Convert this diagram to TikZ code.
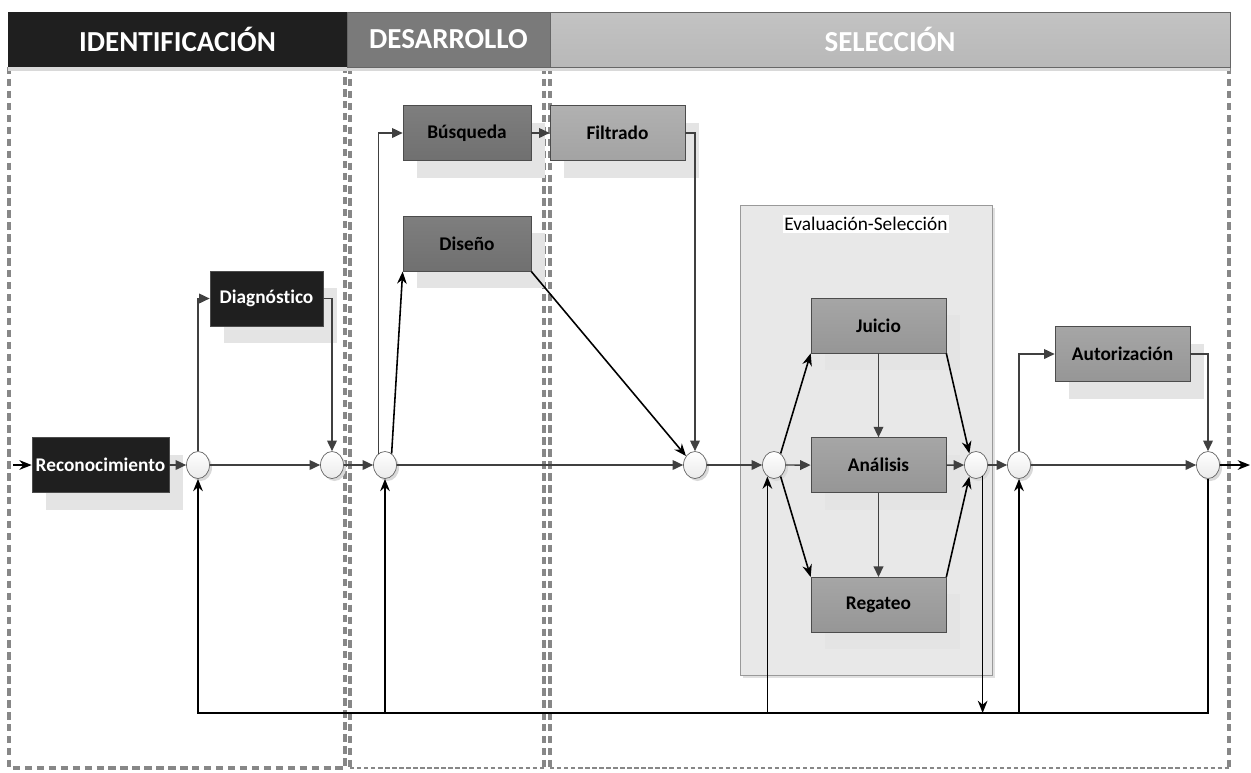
\documentclass[tikz,border=0pt]{standalone}
\usepackage{fontspec}
\setmainfont{Carlito}[Ligatures={NoCommon}]
\definecolor{hdrdark}{RGB}{31,31,31}
\definecolor{hdrmid}{RGB}{122,122,122}
\definecolor{hdrlight}{RGB}{184,184,184}
\definecolor{boxdark}{RGB}{112,112,112}
\definecolor{boxmid}{RGB}{150,150,150}
\definecolor{boxlight}{RGB}{163,163,163}
\definecolor{shadowgray}{RGB}{228,228,228}
\definecolor{zonegray}{RGB}{135,135,135}
\definecolor{linegray}{RGB}{64,64,64}
\usetikzlibrary{shapes,arrows.meta,positioning,calc,shadows}

\begin{document}
\begin{tikzpicture}[x=0.02cm, y=-0.02cm,
    hdr/.style={rectangle, minimum height=1.1cm, inner sep=0pt, text=white, font=\fontsize{16.5}{19}\selectfont\bfseries, drop shadow={shadow xshift=0pt, shadow yshift=-0.08cm, fill=black!15, opacity=1}},
    box/.style={rectangle, draw=black!70, minimum width=2.7cm, minimum height=1.1cm, inner sep=1pt, font=\fontsize{11}{13}\selectfont\bfseries, drop shadow={shadow xshift=0.28cm, shadow yshift=-0.34cm, fill=shadowgray, opacity=1}},
    blackbox/.style={box, fill=hdrdark, text=white},
    darkbox/.style={box, top color=boxdark!90!white, bottom color=boxdark},
    midbox/.style={box, top color=boxmid!85!white, bottom color=boxmid},
    lightbox/.style={box, top color=boxlight!85!white, bottom color=boxlight},
    sumnode/.style={ellipse, draw=black!60, top color=white, bottom color=black!8, minimum width=0.46cm, minimum height=0.54cm, inner sep=0pt, drop shadow={shadow xshift=0.05cm, shadow yshift=-0.05cm, fill=black!15, opacity=1}},
    zone/.style={draw=zonegray, line width=1.8pt, dash pattern=on 4.2pt off 2.6pt},
    zonethin/.style={draw=zonegray, line width=0.7pt, dash pattern=on 2.5pt off 1.5pt},
    garr/.style={-{Triangle[length=6pt,width=5.5pt]}, draw=linegray, line width=0.8pt},
    barr/.style={-{Stealth[length=7pt,width=5.5pt]}, draw=black, line width=0.9pt},
    fline/.style={draw=black, line width=0.9pt}
]
    \useasboundingbox (0,0) rectangle (1251,772);

    % phases
    \draw[zone] (9,67) rectangle (345,768);
    \draw[zone] (350,67) -- (350,768);
    \draw[zone] (544,67) -- (544,768);
    \draw[zonethin] (350,768) -- (544,768);
    \draw[zone] (550,67) -- (550,768);
    \draw[zone] (1229,67) -- (1229,768);
    \draw[zonethin] (550,768) -- (1229,768);

    \node[hdr, fill=hdrdark, minimum width=6.78cm] (hid) at (177.5,39.5) {IDENTIFICACIÓN};
    \node[hdr, fill=hdrmid, draw=black!60, minimum width=4.06cm] (hdes) at (448.5,39.5) {DESARROLLO};
    \node[hdr, top color=hdrlight!85!white, bottom color=hdrlight, draw=black!60, minimum width=13.6cm] (hsel) at (890,39.5) {SELECCIÓN};

    % evaluation group
    \node[rectangle, draw=black!40, fill=black!9, minimum width=5.04cm, minimum height=9.4cm, drop shadow={shadow xshift=0.06cm, shadow yshift=-0.06cm, fill=black!12, opacity=1}] (eval) at (866,440) {};
    \node[fill=white, inner sep=1pt, font=\fontsize{11}{13}\selectfont] (evallbl) at (866,224) {Evaluación-Selección};

    % boxes
    \node[blackbox, minimum width=2.74cm] (reco) at (100.5,465) {Reconocimiento};
    \node[blackbox, minimum width=2.26cm] (diag) at (266.5,298.5) {Diagnóstico};
    \node[darkbox, minimum width=2.56cm] (busq) at (467,133) {Búsqueda};
    \node[darkbox, minimum width=2.56cm, below=1.1cm of busq] (dise) {Diseño};
    \node[lightbox] (filt) at (617.5,133) {Filtrado};
    \node[midbox] (juic) at (878.5,325.5) {Juicio};
    \node[midbox, below=1.68cm of juic] (anal) {Análisis};
    \node[midbox, below=1.68cm of anal] (rega) {Regateo};
    \node[midbox] (auto) at (1122.5,354) {Autorización};

    % junctions
    \node[sumnode] (c1) at (198,465) {};
    \node[sumnode] (c2) at (332,465) {};
    \node[sumnode] (c3) at (385,465) {};
    \node[sumnode] (c4) at (695,465) {};
    \node[sumnode] (c5) at (774,465) {};
    \node[sumnode] (c6) at (976,465) {};
    \node[sumnode] (c7) at (1019,465) {};
    \node[sumnode] (c8) at (1208,465) {};

    \coordinate (in) at (13,465);
    \coordinate (out) at (1250,465);
    \coordinate (fb) at (0,713);

    % main flow
    \draw[barr] (in) -- (reco);
    \draw[garr] (reco) -- (c1);
    \draw[garr] (c1) -- (c2);
    \draw[garr] (c2) -- (c3);
    \draw[garr] (c3) -- (c4);
    \draw[garr] (c4) -- (c5);
    \draw[garr] (c5) -- (anal);
    \draw[garr] (anal) -- (c6);
    \draw[garr] (c6) -- (c7);
    \draw[garr] (c7) -- (c8);
    \draw[barr] (c8) -- (out);

    % branches
    \draw[garr] (c1.north) |- (diag.west);
    \draw[garr] (diag.east) -| (c2.north);
    \draw[garr] (c3.120) |- (busq.west);
    \draw[barr] (c3.60) -- (dise.south west);
    \draw[garr] (busq) -- (filt);
    \draw[garr] (filt.east) -| (c4.north);
    \draw[barr] (dise.south east) -- (c4.135);
    \draw[barr] (c5.60) -- (juic.south west);
    \draw[barr] (c5.-60) -- (rega.north west);
    \draw[garr] (juic) -- (anal);
    \draw[garr] (anal) -- (rega);
    \draw[barr] (juic.south east) -- (c6.120);
    \draw[barr] (rega.north east) -- (c6.-120);
    \draw[garr] (c7.north) |- (auto.west);
    \draw[garr] (auto.east) -| (c8.north);

    % feedback
    \draw[barr] (c8.south) |- (c1.south |- fb) -- (c1.south);
    \draw[barr] (c3.south |- fb) -- (c3.south);
    \draw[barr] (c5.240 |- fb) -- (c5.240);
    \draw[barr] (c6.300) -- (c6.300 |- fb);
    \draw[barr] (c7.south |- fb) -- (c7.south);
\end{tikzpicture}
\end{document}
